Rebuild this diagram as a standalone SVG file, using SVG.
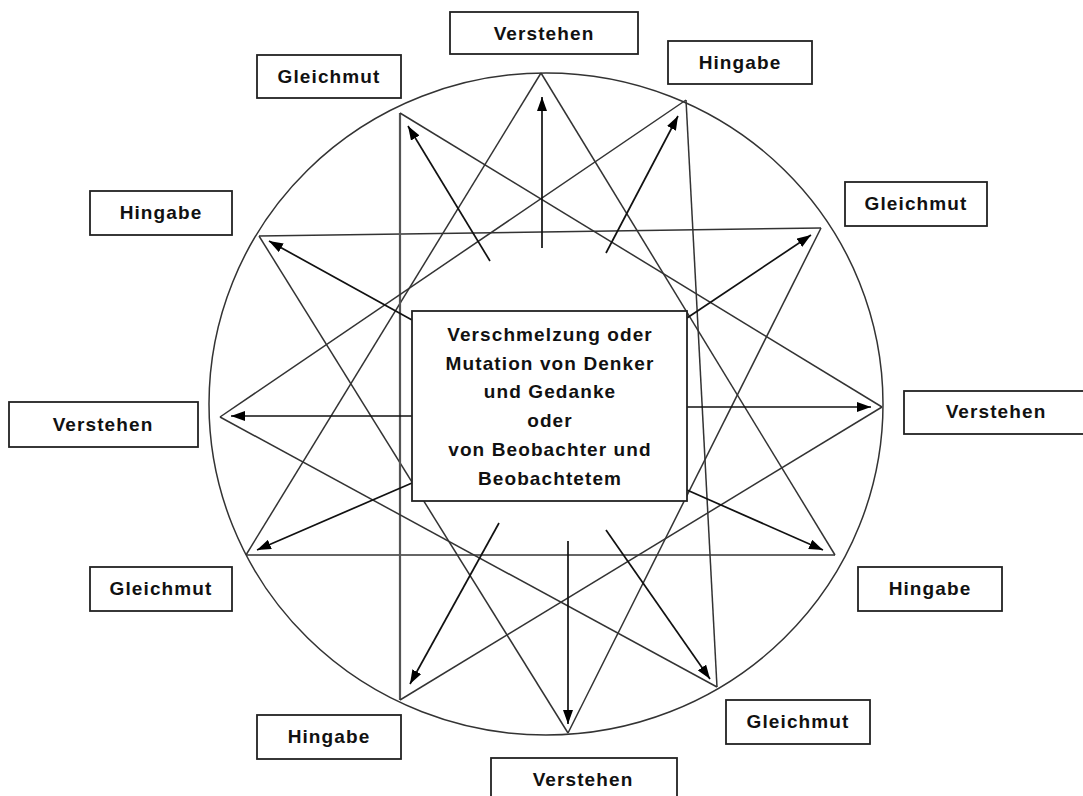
<svg xmlns="http://www.w3.org/2000/svg" width="1083" height="796" viewBox="0 0 1083 796">
<defs>
<style>
.bg{fill:#ffffff}
.ring{fill:none;stroke:#333;stroke-width:1.5}
.star line{stroke:#333;stroke-width:1.5}
.star line.thick{stroke:#555;stroke-width:2.2}
.arrow{stroke:#111;stroke-width:1.7;fill:none;marker-end:url(#ah)}
.box{fill:#fff;stroke:#222;stroke-width:1.8}
.lbl{font-family:"Liberation Sans",Arial,sans-serif;font-weight:bold;font-size:19px;letter-spacing:1.1px;fill:#111;text-anchor:middle}
</style>
<marker id="ah" viewBox="0 0 14 10" refX="14" refY="5" markerWidth="14" markerHeight="10" markerUnits="userSpaceOnUse" orient="auto">
<path d="M0,0 L14,5 L0,10 z" fill="#000"/>
</marker>
</defs>
<rect class="bg" x="0" y="0" width="1083" height="796"/>
<g id="star" class="star">
<ellipse class="ring" cx="546" cy="404" rx="337" ry="331"/>
<line x1="541" y1="73" x2="246" y2="555"/>
<line x1="541" y1="73" x2="835" y2="555"/>
<line x1="568" y1="733" x2="259" y2="236"/>
<line x1="568" y1="733" x2="821" y2="228"/>
<line x1="259" y1="236" x2="821" y2="228"/>
<line x1="246" y1="555" x2="835" y2="555"/>
<line class="thick" x1="400" y1="113" x2="400" y2="700"/>
<line x1="686" y1="100" x2="717" y2="687"/>
<line x1="400" y1="113" x2="882" y2="407"/>
<line x1="220" y1="417" x2="686" y2="100"/>
<line x1="220" y1="417" x2="717" y2="687"/>
<line x1="882" y1="407" x2="400" y2="700"/>
</g>
<g id="connectors">
<line class="arrow" x1="542" y1="248" x2="542" y2="97"/>
<line class="arrow" x1="606" y1="253" x2="678" y2="116"/>
<line class="arrow" x1="490" y1="261" x2="408" y2="126"/>
<line class="arrow" x1="687" y1="318" x2="811" y2="235"/>
<line class="arrow" x1="412" y1="320" x2="269" y2="241"/>
<line class="arrow" x1="687" y1="407" x2="871" y2="407"/>
<line class="arrow" x1="412" y1="416" x2="231" y2="416"/>
<line class="arrow" x1="412" y1="483" x2="257" y2="550"/>
<line class="arrow" x1="687" y1="490" x2="823" y2="550"/>
<line class="arrow" x1="499" y1="523" x2="410" y2="684"/>
<line class="arrow" x1="568" y1="541" x2="568" y2="724"/>
<line class="arrow" x1="606" y1="530" x2="710" y2="679"/>
</g>
<g id="center">
<rect class="box" x="412" y="311" width="275" height="190"/>
<text class="lbl" x="550" y="341">Verschmelzung oder</text>
<text class="lbl" x="550" y="370">Mutation von Denker</text>
<text class="lbl" x="550" y="398">und Gedanke</text>
<text class="lbl" x="550" y="427">oder</text>
<text class="lbl" x="550" y="456">von Beobachter und</text>
<text class="lbl" x="550" y="485">Beobachtetem</text>
</g>
<g id="verstehen-top"><rect class="box" x="450" y="12" width="188" height="42"/><text class="lbl" x="544" y="40">Verstehen</text></g>
<g id="hingabe-top-right"><rect class="box" x="668" y="41" width="144" height="43"/><text class="lbl" x="740" y="69">Hingabe</text></g>
<g id="gleichmut-top-left"><rect class="box" x="257" y="55" width="144" height="43"/><text class="lbl" x="329" y="83">Gleichmut</text></g>
<g id="hingabe-left"><rect class="box" x="90" y="191" width="142" height="44"/><text class="lbl" x="161" y="219">Hingabe</text></g>
<g id="gleichmut-right"><rect class="box" x="845" y="182" width="142" height="44"/><text class="lbl" x="916" y="210">Gleichmut</text></g>
<g id="verstehen-left"><rect class="box" x="9" y="402" width="189" height="45"/><text class="lbl" x="103" y="431">Verstehen</text></g>
<g id="verstehen-right"><rect class="box" x="904" y="391" width="189" height="43"/><text class="lbl" x="996" y="418">Verstehen</text></g>
<g id="gleichmut-left"><rect class="box" x="90" y="567" width="142" height="44"/><text class="lbl" x="161" y="595">Gleichmut</text></g>
<g id="hingabe-right"><rect class="box" x="858" y="567" width="144" height="44"/><text class="lbl" x="930" y="595">Hingabe</text></g>
<g id="hingabe-bottom-left"><rect class="box" x="257" y="715" width="144" height="44"/><text class="lbl" x="329" y="743">Hingabe</text></g>
<g id="gleichmut-bottom-right"><rect class="box" x="726" y="700" width="144" height="44"/><text class="lbl" x="798" y="728">Gleichmut</text></g>
<g id="verstehen-bottom"><rect class="box" x="491" y="758" width="186" height="45"/><text class="lbl" x="583" y="786">Verstehen</text></g>
</svg>
